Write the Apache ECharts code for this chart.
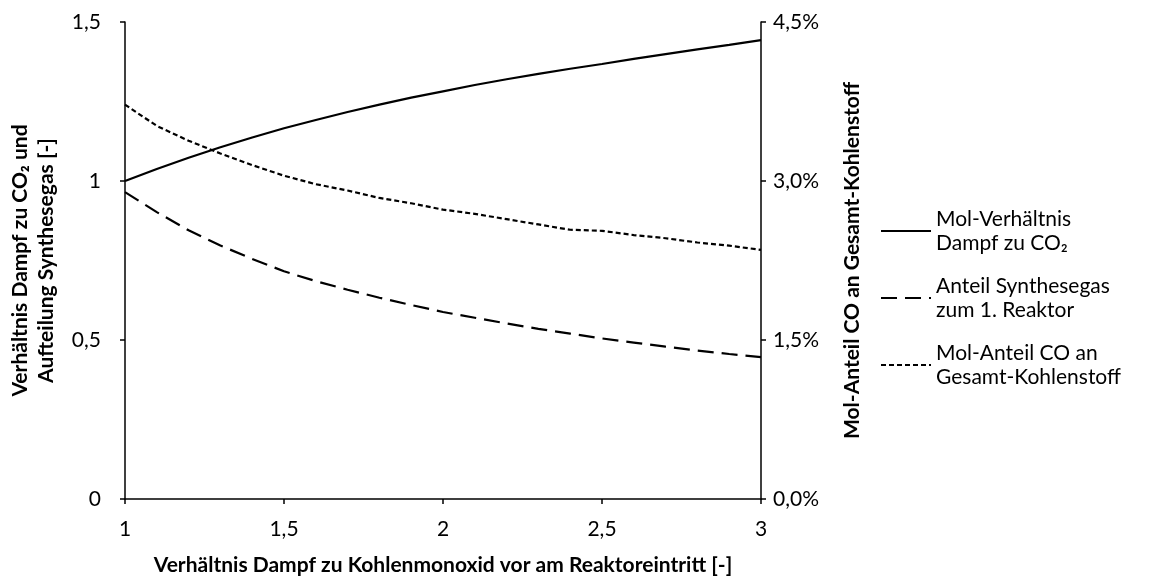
<!DOCTYPE html>
<html>
<head>
<meta charset="utf-8">
<script src="https://cdn.jsdelivr.net/npm/echarts@6/dist/echarts.min.js"></script>
<style>
  html, body { margin: 0; padding: 0; background: #fff; }
  #chart { width: 1169px; height: 581px; }
</style>
</head>
<body>
<div id="chart"></div>
<script>
// Steam-to-CO ratio at reactor inlet (x values)
const steamToCO = [1.0, 1.1, 1.2, 1.3, 1.4, 1.5, 1.6, 1.7, 1.8, 1.9, 2.0,
                   2.1, 2.2, 2.3, 2.4, 2.5, 2.6, 2.7, 2.8, 2.9, 3.0];

// Mol ratio steam to CO2 [-]
const steamToCO2 = [1.000, 1.038, 1.073, 1.106, 1.137, 1.166, 1.192, 1.217, 1.240, 1.262, 1.282,
                    1.302, 1.320, 1.337, 1.353, 1.368, 1.384, 1.399, 1.414, 1.428, 1.443];

// Share of syngas routed to reactor 1 [-]
const syngasShare = [0.965, 0.902, 0.845, 0.797, 0.755, 0.716, 0.685, 0.658, 0.633, 0.610, 0.588,
                     0.570, 0.552, 0.535, 0.520, 0.505, 0.492, 0.479, 0.467, 0.456, 0.446];

// Mol fraction CO in total carbon [%]
const coFraction = [3.72, 3.52, 3.38, 3.26, 3.15, 3.05, 2.97, 2.91, 2.84, 2.79, 2.73,
                    2.69, 2.64, 2.59, 2.54, 2.53, 2.49, 2.46, 2.42, 2.39, 2.35];

const seriesNames = [
  'Mol-Verhältnis\nDampf zu CO₂',
  'Anteil Synthesegas\nzum 1. Reaktor',
  'Mol-Anteil CO an\nGesamt-Kohlenstoff'
];

const FONT = 'Lato, "Noto Sans", "DejaVu Sans", sans-serif';
const comma = v => String(v).replace('.', ',');
const pairs = ys => steamToCO.map((x, i) => [x, ys[i]]);

const axisBase = {
  axisLine: { show: true, lineStyle: { color: '#000', width: 1.5 } },
  axisTick: { show: true, inside: false, length: 5, lineStyle: { color: '#000', width: 1.5 } },
  splitLine: { show: false },
  axisLabel: { color: '#000', fontFamily: FONT, fontSize: 21 },
  nameTextStyle: { color: '#000', fontFamily: FONT, fontSize: 21, fontWeight: 'bold', lineHeight: 26 }
};

const chart = echarts.init(document.getElementById('chart'), null, { renderer: 'canvas' });

chart.setOption({
  backgroundColor: '#fff',
  animation: false,
  grid: { left: 125, right: 408, top: 22, bottom: 82, outerBoundsMode: 'none', containLabel: false },
  legend: {
    orient: 'vertical',
    left: 875,
    top: 190,
    itemWidth: 50,
    itemHeight: 14,
    itemGap: -5,
    itemStyle: { opacity: 0, borderWidth: 0 },
    textStyle: {
      color: '#000', fontFamily: FONT, fontSize: 21, lineHeight: 24,
      padding: [24, 0, 0, 0]
    },
    data: seriesNames
  },
  xAxis: Object.assign({}, axisBase, {
    type: 'value',
    min: 1, max: 3, interval: 0.5,
    name: 'Verhältnis Dampf zu Kohlenmonoxid vor am Reaktoreintritt [-]',
    nameLocation: 'middle',
    nameGap: 53,
    axisLabel: Object.assign({}, axisBase.axisLabel, { margin: 20, formatter: comma })
  }),
  yAxis: [
    Object.assign({}, axisBase, {
      type: 'value',
      position: 'left',
      min: 0, max: 1.5, interval: 0.5,
      name: 'Verhältnis Dampf zu CO₂ und\nAufteilung Synthesegas [-]',
      nameLocation: 'middle',
      nameRotate: 90,
      nameGap: 66,
      axisLabel: Object.assign({}, axisBase.axisLabel, { margin: 24, formatter: comma })
    }),
    Object.assign({}, axisBase, {
      type: 'value',
      position: 'right',
      min: 0, max: 4.5, interval: 1.5,
      name: 'Mol-Anteil CO an Gesamt-Kohlenstoff',
      nameLocation: 'middle',
      nameRotate: 90,
      nameGap: 78,
      axisLabel: Object.assign({}, axisBase.axisLabel, {
        margin: 12,
        formatter: v => v.toFixed(1).replace('.', ',') + '%'
      })
    })
  ],
  series: [
    {
      name: seriesNames[0], type: 'line', yAxisIndex: 0,
      data: pairs(steamToCO2), symbol: 'none', smooth: false,
      lineStyle: { color: '#000', width: 2.2, type: 'solid' },
      itemStyle: { color: '#000' }
    },
    {
      name: seriesNames[1], type: 'line', yAxisIndex: 0,
      data: pairs(syngasShare), symbol: 'none', smooth: false,
      lineStyle: { color: '#000', width: 2.2, type: [16, 8] },
      itemStyle: { color: '#000' }
    },
    {
      name: seriesNames[2], type: 'line', yAxisIndex: 1,
      data: pairs(coFraction), symbol: 'none', smooth: false,
      lineStyle: { color: '#000', width: 2.2, type: [5, 3] },
      itemStyle: { color: '#000' }
    }
  ]
});
</script>
</body>
</html>
